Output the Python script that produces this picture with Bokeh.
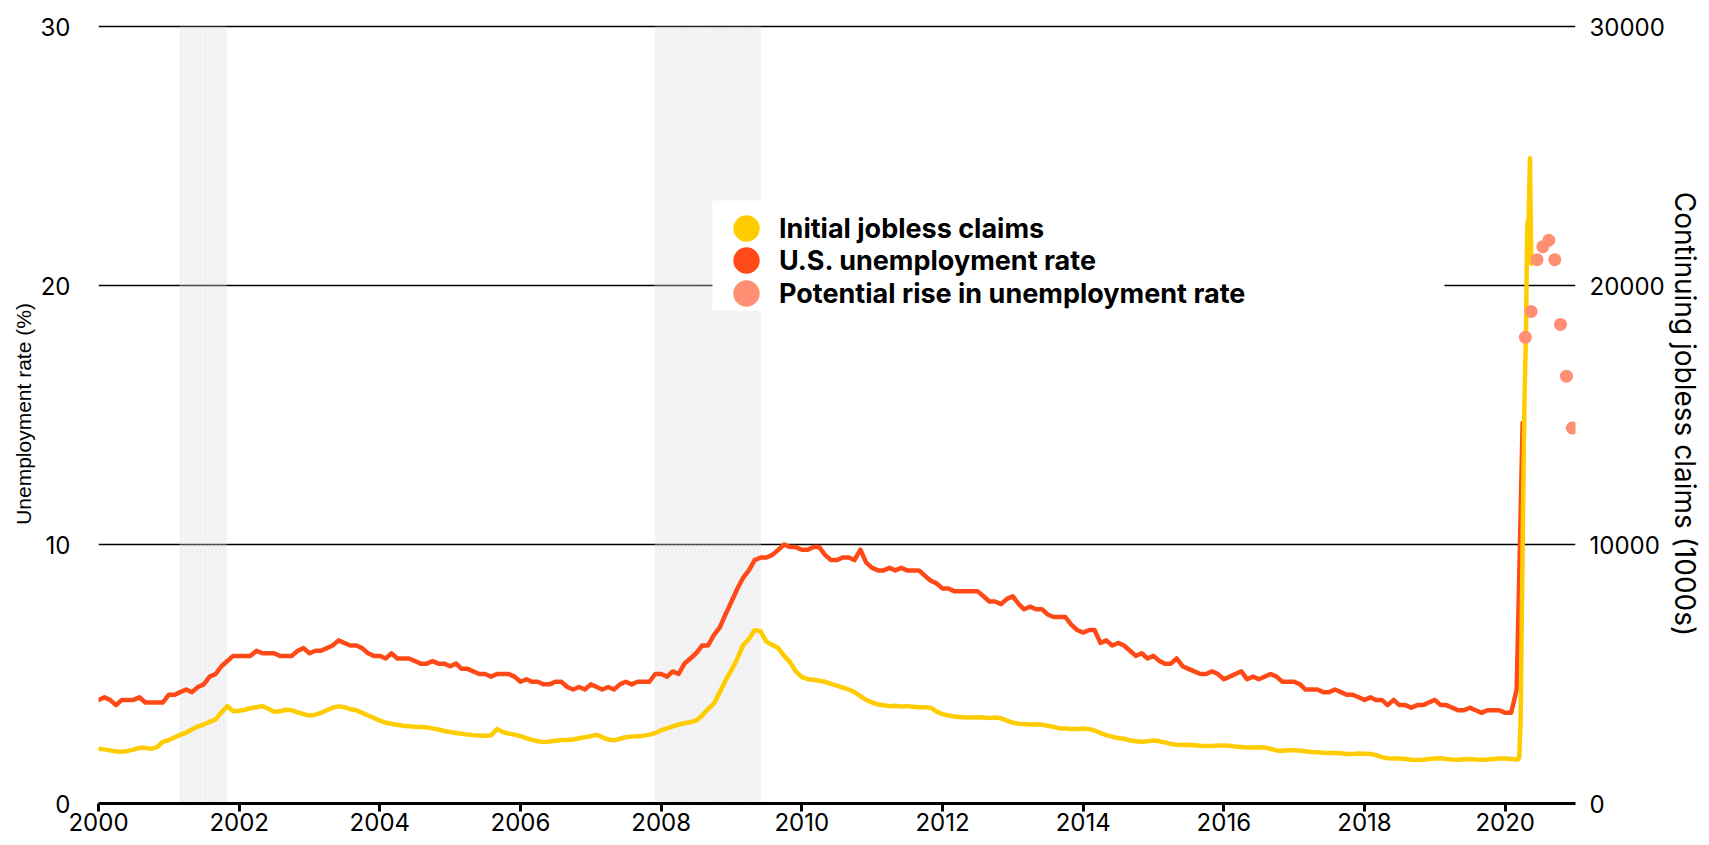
import numpy as np
import pandas as pd
from bokeh.plotting import figure
from bokeh.models import (Range1d, LinearAxis, FixedTicker, Legend, LegendItem,
                          NumeralTickFormatter, BoxAnnotation)
from bokeh.embed import file_html
from bokeh.resources import INLINE

# ---------------- data ----------------
year_ticks = list(range(2000, 2021, 2))
rate_ticks = [0, 10, 20, 30]
claims_ticks = [0, 10000, 20000, 30000]

# U.S. unemployment rate (%), monthly from Jan 2000 to Apr 2020
unemployment_rate = [
    4.0, 4.1, 4.0, 3.8, 4.0, 4.0, 4.0, 4.1, 3.9, 3.9, 3.9, 3.9,   # 2000
    4.2, 4.2, 4.3, 4.4, 4.3, 4.5, 4.6, 4.9, 5.0, 5.3, 5.5, 5.7,   # 2001
    5.7, 5.7, 5.7, 5.9, 5.8, 5.8, 5.8, 5.7, 5.7, 5.7, 5.9, 6.0,   # 2002
    5.8, 5.9, 5.9, 6.0, 6.1, 6.3, 6.2, 6.1, 6.1, 6.0, 5.8, 5.7,   # 2003
    5.7, 5.6, 5.8, 5.6, 5.6, 5.6, 5.5, 5.4, 5.4, 5.5, 5.4, 5.4,   # 2004
    5.3, 5.4, 5.2, 5.2, 5.1, 5.0, 5.0, 4.9, 5.0, 5.0, 5.0, 4.9,   # 2005
    4.7, 4.8, 4.7, 4.7, 4.6, 4.6, 4.7, 4.7, 4.5, 4.4, 4.5, 4.4,   # 2006
    4.6, 4.5, 4.4, 4.5, 4.4, 4.6, 4.7, 4.6, 4.7, 4.7, 4.7, 5.0,   # 2007
    5.0, 4.9, 5.1, 5.0, 5.4, 5.6, 5.8, 6.1, 6.1, 6.5, 6.8, 7.3,   # 2008
    7.8, 8.3, 8.7, 9.0, 9.4, 9.5, 9.5, 9.6, 9.8, 10.0, 9.9, 9.9,  # 2009
    9.8, 9.8, 9.9, 9.9, 9.6, 9.4, 9.4, 9.5, 9.5, 9.4, 9.8, 9.3,   # 2010
    9.1, 9.0, 9.0, 9.1, 9.0, 9.1, 9.0, 9.0, 9.0, 8.8, 8.6, 8.5,   # 2011
    8.3, 8.3, 8.2, 8.2, 8.2, 8.2, 8.2, 8.0, 7.8, 7.8, 7.7, 7.9,   # 2012
    8.0, 7.7, 7.5, 7.6, 7.5, 7.5, 7.3, 7.2, 7.2, 7.2, 6.9, 6.7,   # 2013
    6.6, 6.7, 6.7, 6.2, 6.3, 6.1, 6.2, 6.1, 5.9, 5.7, 5.8, 5.6,   # 2014
    5.7, 5.5, 5.4, 5.4, 5.6, 5.3, 5.2, 5.1, 5.0, 5.0, 5.1, 5.0,   # 2015
    4.8, 4.9, 5.0, 5.1, 4.8, 4.9, 4.8, 4.9, 5.0, 4.9, 4.7, 4.7,   # 2016
    4.7, 4.6, 4.4, 4.4, 4.4, 4.3, 4.3, 4.4, 4.3, 4.2, 4.2, 4.1,   # 2017
    4.0, 4.1, 4.0, 4.0, 3.8, 4.0, 3.8, 3.8, 3.7, 3.8, 3.8, 3.9,   # 2018
    4.0, 3.8, 3.8, 3.7, 3.6, 3.6, 3.7, 3.6, 3.5, 3.6, 3.6, 3.6,   # 2019
    3.5, 3.5, 4.4, 14.7,                                          # 2020
]
rate_start = "2000-01-01"

# Continuing jobless claims (1000s), monthly from Jan 2000 to Feb 2020
claims_monthly = [
    2110, 2090, 2050, 2010, 2000, 2030, 2080, 2150, 2140, 2110, 2180, 2380,  # 2000
    2450, 2560, 2650, 2740, 2860, 2980, 3050, 3150, 3250, 3520, 3760, 3560,  # 2001
    3580, 3620, 3680, 3720, 3760, 3660, 3540, 3560, 3620, 3600, 3520, 3450,  # 2002
    3400, 3430, 3500, 3600, 3700, 3750, 3720, 3640, 3600, 3500, 3400, 3300,  # 2003
    3200, 3120, 3080, 3040, 3000, 2980, 2960, 2950, 2940, 2900, 2860, 2800,  # 2004
    2760, 2720, 2690, 2660, 2640, 2630, 2620, 2630, 2880, 2760, 2700, 2660,  # 2005
    2600, 2520, 2460, 2400, 2370, 2390, 2420, 2450, 2450, 2470, 2520, 2560,  # 2006
    2600, 2650, 2560, 2470, 2440, 2500, 2560, 2590, 2600, 2620, 2660, 2720,  # 2007
    2830, 2900, 2980, 3050, 3100, 3140, 3200, 3400, 3650, 3850, 4300, 4750,  # 2008
    5150, 5600, 6100, 6350, 6690, 6650, 6250, 6120, 6000, 5700, 5450, 5100,  # 2009
    4880, 4800, 4780, 4740, 4700, 4620, 4550, 4480, 4400, 4300, 4150, 4000,  # 2010
    3900, 3820, 3790, 3760, 3770, 3750, 3760, 3740, 3720, 3720, 3700, 3550,  # 2011
    3450, 3400, 3360, 3340, 3320, 3320, 3330, 3320, 3300, 3320, 3290, 3200,  # 2012
    3120, 3080, 3070, 3050, 3060, 3040, 3000, 2960, 2900, 2900, 2880, 2880,  # 2013
    2900, 2870, 2820, 2720, 2640, 2580, 2530, 2500, 2440, 2400, 2380, 2400,  # 2014
    2430, 2400, 2360, 2300, 2270, 2260, 2270, 2250, 2230, 2220, 2220, 2240,  # 2015
    2240, 2230, 2200, 2180, 2160, 2160, 2170, 2160, 2110, 2050, 2040, 2060,  # 2016
    2060, 2040, 2020, 1990, 1980, 1960, 1950, 1950, 1940, 1910, 1910, 1930,  # 2017
    1920, 1910, 1870, 1790, 1750, 1740, 1740, 1720, 1690, 1680, 1690, 1720,  # 2018
    1740, 1750, 1720, 1700, 1690, 1710, 1720, 1700, 1690, 1700, 1720, 1740,  # 2019
    1740, 1720,                                                              # 2020
]
claims_start = "2000-01-01"

# Continuing jobless claims (1000s), weekly in spring 2020
claims_2020_weeks = ["2020-03-07", "2020-03-14", "2020-03-21", "2020-03-28",
                     "2020-04-04", "2020-04-11", "2020-04-18", "2020-04-25",
                     "2020-05-02", "2020-05-09", "2020-05-16", "2020-05-23"]
claims_2020_values = [1702, 1784, 3059, 7446, 11914, 15819, 18011, 22377,
                      22548, 24912, 20838, 21052]

# Potential rise in unemployment rate (%)
potential_months = ["2020-04-15", "2020-05-15", "2020-06-15", "2020-07-15",
                    "2020-08-15", "2020-09-15", "2020-10-15", "2020-11-15",
                    "2020-12-15"]
potential_rate = [18.0, 19.0, 21.0, 21.5, 21.75, 21.0, 18.5, 16.5, 14.5]

# Recessions (shaded)
recessions = [("2001-03-01", "2001-10-31"), ("2007-12-01", "2009-05-31")]

series_labels = ["Initial jobless claims", "U.S. unemployment rate",
                 "Potential rise in unemployment rate"]

YELLOW = "#FFCC00"
RED = "#FF4A17"
SALMON = "#FF8F72"


def dec_year(dates):
    d = pd.DatetimeIndex(pd.to_datetime(dates))
    days = np.where(d.is_leap_year, 366.0, 365.0)
    return (d.year + (d.dayofyear - 1) / days).to_numpy(dtype=float)


rate_x = dec_year(pd.date_range(rate_start, periods=len(unemployment_rate), freq="MS"))
claims_x = np.concatenate([
    dec_year(pd.date_range(claims_start, periods=len(claims_monthly), freq="MS")),
    dec_year(claims_2020_weeks),
])
claims_y = list(claims_monthly) + list(claims_2020_values)

shade_x = np.concatenate([dec_year(pd.date_range(a, b, freq="7D")) for a, b in recessions])

# ---------------- figure ----------------
W, H = 1709, 841
TOP, BOTTOM, LEFT, RIGHT = 24, 38, 98, 134
FRAME_H = H - TOP - BOTTOM

p = figure(width=W, height=H, output_backend="svg", toolbar_location=None,
           x_range=Range1d(2000, 2021), y_range=Range1d(0, 30.08),
           min_border_left=LEFT, min_border_right=RIGHT, min_border_top=TOP,
           min_border_bottom=BOTTOM)
p.outline_line_color = None
p.background_fill_color = "white"
p.border_fill_color = "white"
p.extra_y_ranges = {"claims": Range1d(0, 30080)}

TICK_FONT = "Inter"

# grid
p.xgrid.grid_line_color = None
p.ygrid.ticker = FixedTicker(ticks=[10, 20, 30])
p.ygrid.grid_line_color = "black"
p.ygrid.grid_line_width = 1.6

# x axis
xa = p.xaxis[0]
xa.ticker = FixedTicker(ticks=year_ticks)
xa.formatter = NumeralTickFormatter(format="0")
xa.axis_line_color = "black"
xa.axis_line_width = 3
xa.major_tick_line_color = "black"
xa.major_tick_line_width = 3
xa.major_tick_in = 0
xa.major_tick_out = 8
xa.minor_tick_line_color = None
xa.major_label_standoff = 1
xa.major_label_text_font = TICK_FONT
xa.major_label_text_font_size = "24px"
xa.major_label_text_color = "black"

# left axis
ya = p.yaxis[0]
ya.ticker = FixedTicker(ticks=rate_ticks)
ya.axis_line_color = None
ya.major_tick_line_color = None
ya.minor_tick_line_color = None
ya.major_label_standoff = 22
ya.major_label_text_font = TICK_FONT
ya.major_label_text_font_size = "24px"
ya.major_label_text_color = "black"
ya.axis_label = "Unemployment rate (%)"
ya.axis_label_text_font = "Liberation Sans"
ya.axis_label_text_font_style = "normal"
ya.axis_label_text_font_size = "21px"
ya.axis_label_text_color = "black"
ya.axis_label_standoff = 3

# right axis
ra = LinearAxis(y_range_name="claims", ticker=FixedTicker(ticks=claims_ticks),
                formatter=NumeralTickFormatter(format="0"))
ra.axis_line_color = None
ra.major_tick_line_color = None
ra.minor_tick_line_color = None
ra.major_label_standoff = 8
ra.major_label_text_font = TICK_FONT
ra.major_label_text_font_size = "24px"
ra.major_label_text_color = "black"
ra.axis_label = "Continuing jobless claims (1000s)"
ra.axis_label_text_font = TICK_FONT
ra.axis_label_text_font_style = "normal"
ra.axis_label_text_font_size = "28px"
ra.axis_label_text_color = "black"
ra.axis_label_standoff = 0
p.add_layout(ra, "right")

# recession shading
p.vbar(x=shade_x, top=30, bottom=0, width=7 / 365.25 * 0.78,
       fill_color="#dcdce3", fill_alpha=0.45, line_color=None)

# lines
p.line(rate_x, unemployment_rate, line_color=RED, line_width=4.5,
       line_join="round", line_cap="round")
p.line(claims_x, claims_y, y_range_name="claims", line_color=YELLOW, line_width=4.5,
       line_join="round", line_cap="round")
dots = p.scatter(dec_year(potential_months), potential_rate, size=13,
                 fill_color=SALMON, line_color=None)

# legend-only marker renderers (zero size on the chart)
leg_y = p.scatter(claims_x, claims_y, y_range_name="claims", size=0,
                  fill_color=YELLOW, line_color=None)
leg_r = p.scatter(rate_x, unemployment_rate, size=0, fill_color=RED, line_color=None)

# white legend panel
p.add_layout(BoxAnnotation(left=LEFT + 614, right=LEFT + 1346,
                           top=TOP + 176, bottom=TOP + 286,
                           left_units="canvas", right_units="canvas",
                           top_units="canvas", bottom_units="canvas",
                           fill_color="white", fill_alpha=1, line_color=None))

for i, (lab, rend) in enumerate(zip(series_labels, [leg_y, leg_r, dots])):
    item_top = 169 + i * 32.3
    lg = Legend(items=[LegendItem(label=lab, renderers=[rend])],
                location=(615, int(round(FRAME_H - item_top - 70))),
                orientation="vertical", glyph_width=66, glyph_height=70,
                label_height=70, label_standoff=0, padding=0, margin=0, spacing=0,
                border_line_color=None, background_fill_alpha=0,
                label_text_font=TICK_FONT, label_text_font_style="bold",
                label_text_font_size="27px", label_text_color="black")
    p.add_layout(lg)

open("out.html", "w").write(file_html(p, INLINE))
